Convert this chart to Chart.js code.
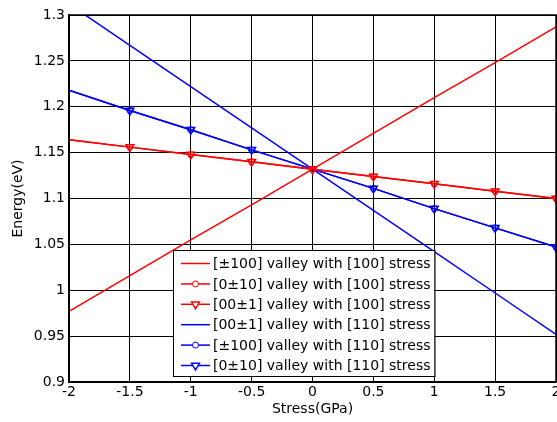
<!DOCTYPE html>
<html>
<head>
<meta charset="UTF-8">
<title>Energy vs Stress</title>
<style>
  html, body { margin: 0; padding: 0; background: #fff; overflow: hidden; }
  #wrap { position: relative; width: 557px; height: 422px; overflow: hidden; }
</style>
</head>
<body>
<div id="wrap"><canvas id="chart" width="562" height="422"></canvas></div>
<script src="https://cdn.jsdelivr.net/npm/chart.js"></script>
<script>
// stress values (GPa)
const stress = [-2, -1.5, -1, -0.5, 0, 0.5, 1, 1.5, 2];

// energies (eV)
const red100 = [0.977, 1.016, 1.055, 1.093, 1.132, 1.171, 1.210, 1.248, 1.287];
const red010 = [1.164, 1.156, 1.148, 1.140, 1.132, 1.124, 1.116, 1.108, 1.100];
const red001 = [1.164, 1.156, 1.148, 1.140, 1.132, 1.124, 1.116, 1.108, 1.100];
const blue001 = [1.312, 1.267, 1.222, 1.177, 1.132, 1.087, 1.042, 0.997, 0.952];
const blue100 = [1.218, 1.196, 1.175, 1.153, 1.132, 1.111, 1.089, 1.068, 1.047];
const blue010 = [1.218, 1.196, 1.175, 1.153, 1.132, 1.111, 1.089, 1.068, 1.047];

const labels = [
  '[±100] valley with [100] stress',
  '[0±10] valley with [100] stress',
  '[00±1] valley with [100] stress',
  '[00±1] valley with [110] stress',
  '[±100] valley with [110] stress',
  '[0±10] valley with [110] stress'
];

const RED = '#ff0000';
const BLUE = '#0000ff';
const FONT = 'DejaVu Sans, sans-serif';

const pts = arr => stress.map((x, i) => ({ x, y: arr[i] }));

function series(label, data, color, marker) {
  const ds = {
    label,
    data: pts(data),
    borderColor: color,
    backgroundColor: 'rgba(0,0,0,0)',
    borderWidth: 1.5,
    pointRadius: 0,
    pointBorderColor: color,
    pointBackgroundColor: 'rgba(0,0,0,0)',
    tension: 0,
    clip: 0
  };
  if (marker === 'o') {
    ds.pointStyle = 'circle';
    ds.markerSize = 3;
    ds.pointBorderWidth = 1;
  } else if (marker === 'v') {
    ds.pointStyle = 'triangle';
    ds.pointRotation = 180;
    ds.markerSize = 4.5;
    ds.pointBorderWidth = 1.5;
  }
  if (marker) {
    // no marker visible on the left axis edge in the original
    const r = ds.markerSize;
    ds.pointRadius = c => (c.dataIndex === 0 ? 0 : r);
  }
  return ds;
}

const datasets = [
  series(labels[0], red100, RED, null),
  series(labels[1], red010, RED, 'o'),
  series(labels[2], red001, RED, 'v'),
  series(labels[3], blue001, BLUE, null),
  series(labels[4], blue100, BLUE, 'o'),
  series(labels[5], blue010, BLUE, 'v')
];

const fmt = v => String(+v.toFixed(2));

// frame + legend drawn inside the axes like the original
const boxAndLegend = {
  id: 'boxAndLegend',
  afterDraw(chart) {
    const { ctx, chartArea: a } = chart;
    ctx.save();
    ctx.strokeStyle = '#000';
    ctx.lineWidth = 1.5;
    ctx.strokeRect(a.left, a.top, a.right - a.left, a.bottom - a.top);

    ctx.font = '14px ' + FONT;
    const rowH = 20.4;
    const x0 = 173, y0 = 250;
    const textX = x0 + 40;
    let maxW = 0;
    chart.data.datasets.forEach(d => { maxW = Math.max(maxW, ctx.measureText(d.label).width); });
    const w = textX - x0 + maxW + 4;
    const h = 126;
    ctx.fillStyle = '#fff';
    ctx.fillRect(x0, y0, w, h);
    ctx.lineWidth = 1;
    ctx.strokeRect(x0 + 0.5, y0 + 0.5, w, h);

    chart.data.datasets.forEach((d, i) => {
      const cy = y0 + 13.5 + i * rowH;
      ctx.strokeStyle = d.borderColor;
      ctx.lineWidth = 1.5;
      ctx.beginPath();
      ctx.moveTo(x0 + 8, cy);
      ctx.lineTo(x0 + 37, cy);
      ctx.stroke();
      if (d.markerSize) {
        ctx.fillStyle = '#fff';
        ctx.lineWidth = d.pointBorderWidth;
        Chart.helpers.drawPoint(ctx, {
          pointStyle: d.pointStyle,
          rotation: d.pointRotation || 0,
          radius: d.markerSize,
          borderWidth: d.pointBorderWidth
        }, x0 + 22.5, cy);
      }
      ctx.fillStyle = '#000';
      ctx.textBaseline = 'middle';
      ctx.textAlign = 'left';
      ctx.fillText(d.label, textX, cy + 1);
    });
    ctx.restore();
  }
};

new Chart(document.getElementById('chart'), {
  type: 'line',
  data: { datasets },
  options: {
    responsive: false,
    animation: false,
    layout: { padding: { left: 0, right: 1, top: 15, bottom: 0 } },
    plugins: { legend: { display: false }, tooltip: { enabled: false } },
    scales: {
      x: {
        type: 'linear',
        min: -2, max: 2,
        ticks: { stepSize: 0.5, callback: fmt, color: '#000', font: { family: FONT, size: 14 }, padding: 2, maxRotation: 0 },
        grid: { color: '#000', lineWidth: 1, drawTicks: false },
        border: { color: '#000', width: 1.5 },
        title: { display: true, text: 'Stress(GPa)', color: '#000', font: { family: FONT, size: 14 }, padding: { top: 0, bottom: 4 } },
        afterFit(s) { s.height = 40; s.paddingLeft = 0; s.paddingRight = 0; }
      },
      y: {
        min: 0.9, max: 1.3,
        ticks: { stepSize: 0.05, callback: fmt, color: '#000', font: { family: FONT, size: 14 }, padding: 4 },
        grid: { color: '#000', lineWidth: 1, drawTicks: false },
        border: { color: '#000', width: 1.5 },
        title: { display: true, text: 'Energy(eV)', color: '#000', font: { family: FONT, size: 14 }, padding: { top: 10, bottom: 0 } },
        afterFit(s) { s.width = 69; s.paddingTop = 0; s.paddingBottom = 0; }
      }
    }
  },
  plugins: [boxAndLegend]
});
</script>
</body>
</html>
